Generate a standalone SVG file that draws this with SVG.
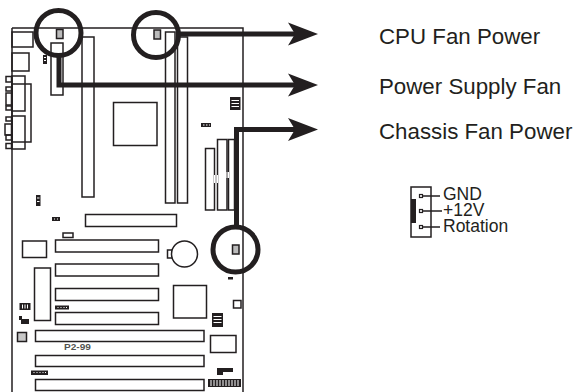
<svg xmlns="http://www.w3.org/2000/svg" width="575" height="392" viewBox="0 0 575 392">
<defs>
<marker id="ah" markerUnits="userSpaceOnUse" markerWidth="32" markerHeight="26" refX="13" refY="13" orient="auto"><path d="M1 1.500L31 13L1 24.500L8 13Z" fill="#231f20"/></marker>
</defs>
<style>
.o{fill:none;stroke:#231f20;stroke-width:1.500}
.w{fill:#fff;stroke:#231f20;stroke-width:1.200}
.d{fill:#231f20}
.c{fill:none;stroke:#231f20;stroke-width:5}
.r{fill:none;stroke:#231f20;stroke-width:5}
.h{fill:#bbb;stroke:#231f20;stroke-width:1.500}
.s{stroke:#fff;stroke-width:1;fill:none}
text{font-family:"Liberation Sans",Arial,sans-serif;fill:#231f20}
.l{font-size:22.300px}
.p{font-size:17.500px}
</style>
<g id="board">
<path class="o" d="M12 28H243V392M12 28V392"/>
<rect class="o" x="12" y="32" width="21" height="15"/>
<rect class="o" x="12" y="53" width="17" height="18"/>
<rect class="o" x="12" y="76" width="13" height="35"/>
<rect class="o" x="12" y="84" width="19" height="58"/>
<rect class="o" x="12" y="116" width="13" height="33"/>
<rect class="o" x="6" y="76.500" width="5.500" height="5.500"/>
<rect class="o" x="6" y="87" width="5.500" height="4"/>
<rect class="o" x="6" y="93" width="5.500" height="12"/>
<rect class="o" x="6" y="106" width="5.500" height="4"/>
<rect class="o" x="6" y="117" width="5.500" height="4"/>
<rect class="o" x="5" y="124" width="6.500" height="11"/>
<rect class="o" x="6" y="135" width="5.500" height="5"/>
<rect class="o" x="6" y="143.500" width="5.500" height="5"/>
<rect class="d" x="43" y="55" width="4" height="9"/>
<path class="s" d="M44 57.500h2M44 60.500h2"/>
<rect class="o" x="51" y="43" width="12" height="52"/>
<rect class="o" x="82" y="37" width="12" height="160"/>
<rect class="o" x="113.500" y="102.500" width="43.500" height="43"/>
<rect class="o" x="165.500" y="32" width="9.500" height="171"/>
<rect class="o" x="177.500" y="37" width="10" height="166"/>
<rect class="d" x="230" y="97" width="10.500" height="13"/>
<path class="s" d="M231.500 100.500h7.500M231.500 103.500h7.500M231.500 106.500h7.500"/>
<rect class="d" x="201" y="123" width="10" height="4"/>
<path class="s" d="M203 125h1.500M206 125h1.500M209 125h1"/>
<rect class="o" x="205.500" y="148.500" width="9" height="61.500"/>
<rect class="o" x="217.500" y="139.500" width="9.500" height="70.500"/>
<rect class="o" x="228.500" y="139.500" width="6" height="70.500"/>
<path class="s" stroke-width="2" d="M214.500 175V183M217.500 175V183M227 172V178M228.500 172V178"/>
<rect class="d" x="36" y="195" width="4.500" height="11"/>
<path class="s" d="M37 198h2.500M37 201.500h2.500"/>
<rect class="d" x="52" y="217" width="8" height="4"/>
<path class="s" d="M54 219h1M57 219h1"/>
<rect class="o" x="85.500" y="214.500" width="91" height="12"/>
<rect class="o" x="63" y="233" width="10" height="4.500"/>
<rect class="o" x="22.500" y="241" width="24" height="16.500"/>
<rect class="o" x="55.500" y="240" width="103" height="12"/>
<rect class="o" x="55.500" y="264" width="103" height="12"/>
<rect class="o" x="55.500" y="288.500" width="103" height="12"/>
<rect class="o" x="55.500" y="312.500" width="103" height="12"/>
<rect class="o" x="34.500" y="268" width="16" height="52.500"/>
<rect class="d" x="19.500" y="303" width="11" height="7"/>
<path class="s" d="M22.500 304.500v4M25 304.500v4M27.500 304.500v4"/>
<rect class="d" x="55" y="305.500" width="14" height="4"/>
<path class="s" d="M57.500 307.500h1M60.500 307.500h1M63.500 307.500h1M66 307.500h1"/>
<path class="d" d="M19 316H22V319H29V324H21V320H19Z"/>
<rect fill="#c8c8c8" stroke="#231f20" stroke-width="1.500" x="17.500" y="332.500" width="9" height="9"/>
<rect class="o" x="35.500" y="330.500" width="168.500" height="11"/>
<text x="64" y="350" font-size="8.500" font-weight="700" textLength="27" lengthAdjust="spacingAndGlyphs" fill-opacity="0.8">P2-99</text>
<rect class="o" x="35.500" y="355.500" width="168.500" height="11"/>
<rect class="d" x="31" y="370.500" width="17" height="4.500"/>
<path class="s" d="M33.500 372.500h1M36.500 372.500h1M39.500 372.500h1M42.500 372.500h1M45 372.500h1"/>
<rect class="o" x="35.500" y="379.500" width="168.500" height="11"/>
<rect class="o" x="167.500" y="250" width="5" height="8"/>
<circle cx="184.500" cy="254" r="13" fill="#fff" stroke="#231f20" stroke-width="1.500"/>
<rect class="o" x="173.500" y="285.500" width="33" height="32.500"/>
<rect class="d" x="212" y="313" width="11" height="14"/>
<path class="s" d="M213.500 316.500h8M213.500 319.500h8M213.500 322.500h8"/>
<rect class="o" x="210.500" y="335.500" width="25.500" height="17"/>
<rect class="o" x="233.500" y="300.500" width="7.500" height="7.500"/>
<rect class="d" x="228" y="277" width="5" height="2.500"/>
<path class="d" d="M217 368H233V372H223V375H217Z"/>
<rect class="d" x="208" y="379" width="33" height="8"/>
<path class="s" d="M211 380v6M214 380v6M217 380v6M220 380v6M223 380v6M226 380v6M229 380v6M232 380v6M235 380v6M238 380v6"/>
</g>
<g id="cpu-fan-header"><rect class="h" x="56.500" y="29.500" width="6.500" height="9"/><circle class="r" cx="58.500" cy="33" r="22.500"/></g>
<g id="psu-fan-header"><rect class="h" x="154" y="30" width="6.500" height="9"/><circle class="r" cx="156" cy="35" r="22.500"/></g>
<g id="chassis-fan-header"><rect class="h" x="232.500" y="245" width="6.500" height="9"/><circle class="r" cx="235.500" cy="249.500" r="22.500"/></g>
<g id="connectors">
<path class="c" marker-end="url(#ah)" d="M178 34H300"/>
<path class="c" marker-end="url(#ah)" d="M59 55V85H300"/>
<path class="c" marker-end="url(#ah)" d="M236.500 226V129.500H300"/>
</g>
<g id="labels">
<text class="l" x="379" y="44">CPU Fan Power</text>
<text class="l" x="379" y="94">Power Supply Fan</text>
<text class="l" x="379" y="139">Chassis Fan Power</text>
</g>
<g id="pinout">
<rect class="o" x="411" y="187" width="20" height="50"/>
<rect class="d" x="411" y="199" width="5" height="24"/>
<path d="M421 196H440M421 211H442M421 227H440" stroke="#231f20" stroke-width="1.500" fill="none"/>
<rect class="w" x="419.500" y="194.500" width="3" height="3"/><rect class="w" x="419.500" y="209.500" width="3" height="3"/><rect class="w" x="419.500" y="225.500" width="3" height="3"/>
<text class="p" x="443" y="200">GND</text>
<text class="p" x="443" y="215.500">+12V</text>
<text class="p" x="443" y="232">Rotation</text>
</g>
</svg>
